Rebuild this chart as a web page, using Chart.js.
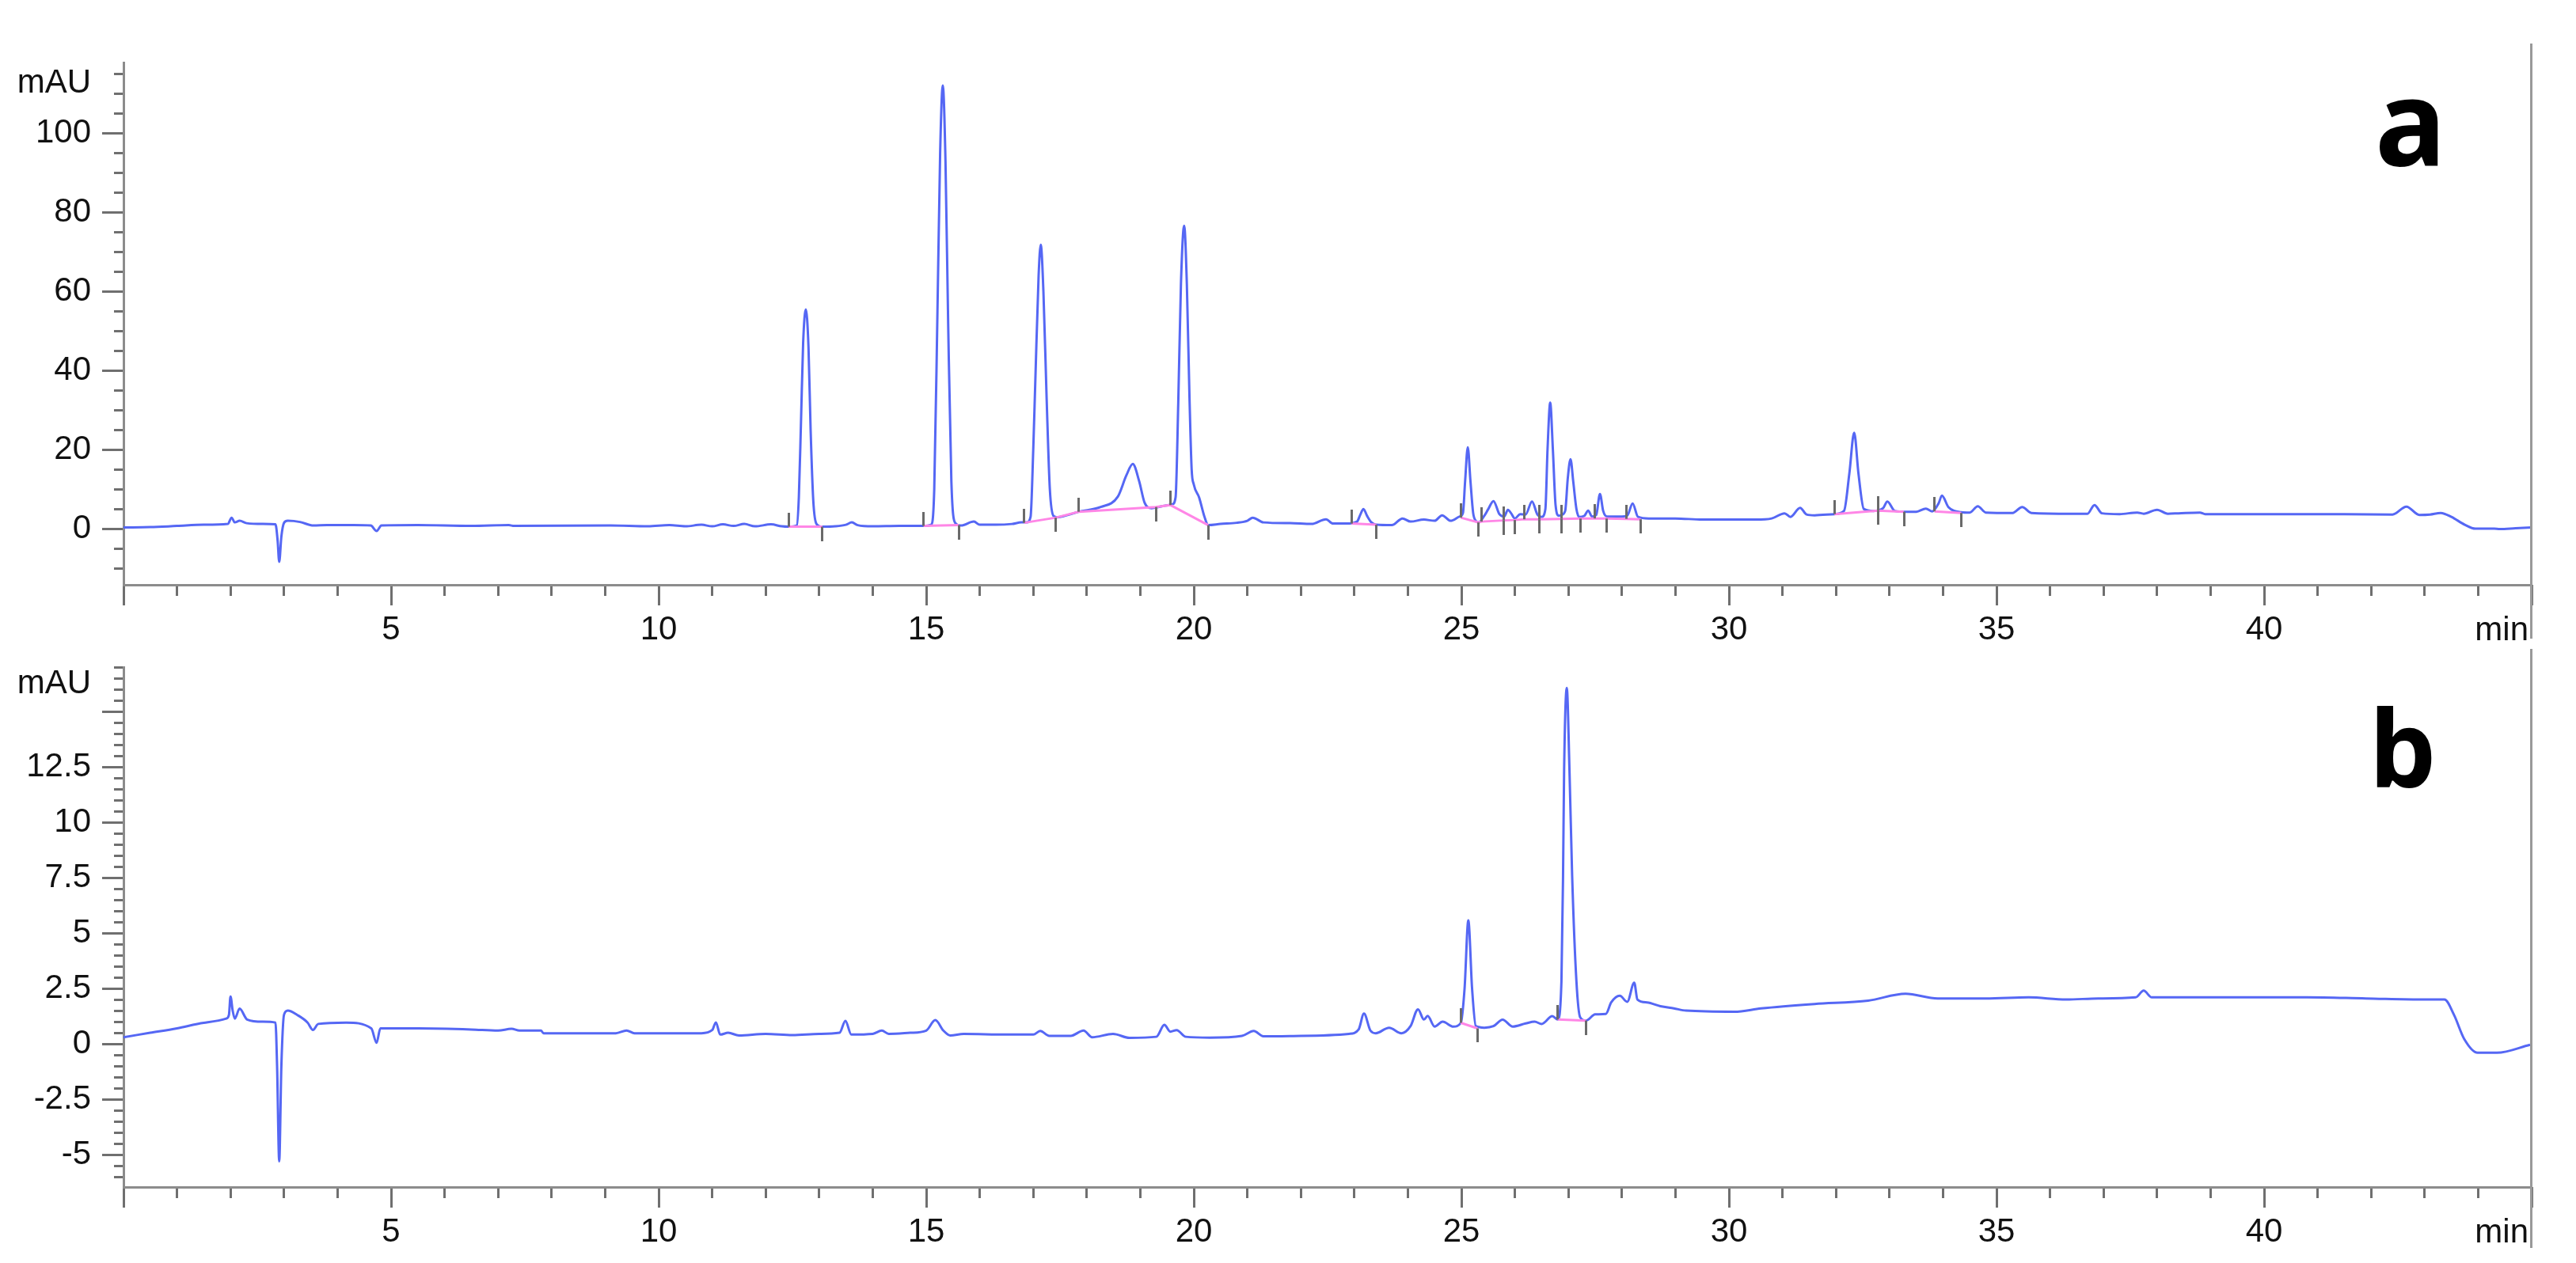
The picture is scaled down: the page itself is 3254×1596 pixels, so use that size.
<!DOCTYPE html>
<html>
<head>
<meta charset="utf-8">
<script src="https://cdn.jsdelivr.net/npm/chart.js@4.4.1/dist/chart.umd.min.js"></script>
<style>
  html, body { margin: 0; padding: 0; background: #fff; }
  body { width: 3254px; height: 1596px; position: relative; overflow: hidden; }
  .panel { position: absolute; left: 0; width: 3254px; }
  #panelA { top: 0; height: 840px; }
  #panelB { top: 800px; height: 796px; }
  .unit { position: absolute; font-family: "Liberation Sans", Arial, sans-serif; font-size: 42px; line-height: 42px; color: #111; white-space: nowrap; }
  .tag { position: absolute; font-family: "Noto Sans", sans-serif; font-weight: 700; line-height: 1; color: #000; }
  .edge { position: absolute; left: 3196px; width: 3px; background: #999; }
</style>
</head>
<body>
<div class="panel" id="panelA"><canvas id="chartA"></canvas></div>
<div class="panel" id="panelB"><canvas id="chartB"></canvas></div>

<div class="unit" style="right:3139px; top:82px; text-align:right;">mAU</div>
<div class="unit" style="right:3139px; top:841px; text-align:right;">mAU</div>
<div class="unit" style="right:60px; top:774px;">min</div>
<div class="unit" style="right:60px; top:1535px;">min</div>
<div class="tag" style="left:3000px; top:76px; font-size:150px;">a</div>
<div class="tag" style="left:2993px; top:876px; font-size:134px;">b</div>
<div class="edge" style="top:55px; height:752px;"></div>
<div class="edge" style="top:820px; height:757px;"></div>

<script>
// chromatogram a
let timeA = [0, 0.5, 1, 1.5, 1.95, 2.02, 2.08, 2.17, 2.3, 2.6, 2.84, 2.88, 2.91, 2.95, 3, 3.07, 3.3, 3.55, 3.8, 4.3,
  4.62, 4.73, 4.82, 5.5, 6.5, 7.2, 7.3, 9.1, 9.8, 10.2, 10.5, 10.8, 11, 11.2, 11.4, 11.6, 11.8, 12.1, 12.3,
  12.43, 12.58, 12.62, 12.66, 12.7, 12.75, 12.8, 12.84, 12.89, 12.95, 13.06, 13.3, 13.5, 13.61, 13.72, 14, 14.5,
  14.95, 15.09, 15.15, 15.21, 15.26, 15.31, 15.36, 15.41, 15.47, 15.54, 15.65, 15.89, 16, 16.3, 16.6, 16.78, 16.88,
  16.95, 17, 17.04, 17.1, 17.14, 17.19, 17.25, 17.31, 17.38, 17.45, 17.6, 17.85, 18.26, 18.58, 18.74, 18.86, 18.98,
  19.08, 19.21, 19.35, 19.48, 19.6, 19.66, 19.71, 19.76, 19.82, 19.87, 19.92, 19.96, 20, 20.1, 20.2, 20.27,
  20.5, 20.8, 21, 21.1, 21.3, 21.8, 22.2, 22.47, 22.6, 22.85, 23.05, 23.11, 23.17, 23.24, 23.32, 23.41, 23.7, 23.9,
  24.05, 24.3, 24.5, 24.64, 24.8, 24.97, 25.03, 25.07, 25.12, 25.17, 25.22, 25.27, 25.32, 25.43, 25.5, 25.6, 25.71,
  25.8, 25.87, 25.93, 26, 26.1, 26.2, 26.32, 26.42, 26.5, 26.57, 26.61, 26.66, 26.71, 26.76, 26.82, 26.87, 26.94,
  26.99, 27.04, 27.09, 27.15, 27.2, 27.3, 27.37, 27.44, 27.52, 27.59, 27.65, 27.72, 28, 28.1, 28.2, 28.3, 28.5,
  29, 29.5, 30, 30.5, 30.8, 31.04, 31.15, 31.33, 31.45, 31.6, 31.97, 32.15, 32.25, 32.34, 32.42, 32.52, 32.7,
  32.88, 32.96, 33.1, 33.3, 33.5, 33.68, 33.8, 33.92, 33.98, 34.1, 34.34, 34.5, 34.65, 34.8, 35.3, 35.48, 35.65,
  36.4, 36.7, 36.83, 36.97, 37.3, 37.63, 37.75, 38, 38.2, 38.4, 38.8, 38.9, 41.5, 42.4, 42.66, 42.9, 43.1, 43.3,
  43.5, 43.75, 43.95, 44.3, 44.4, 44.7, 45];
let mauA = [0.3, 0.4, 0.7, 1, 1.2, 2.8, 1.6, 2, 1.4, 1.2, 1.1, -3, -8.4, -2, 1.5, 2, 1.7, 0.8, 0.9, 0.9,
  0.8, -0.6, 0.8, 0.9, 0.7, 0.9, 0.7, 0.8, 0.6, 0.9, 0.6, 1, 0.6, 1.1, 0.7, 1.2, 0.6, 1.1, 0.6,
  0.5, 0.8, 8, 27, 47, 55.5, 46, 25, 7, 1.2, 0.5, 0.6, 1, 1.6, 0.9, 0.6, 0.7,
  0.7, 1, 10, 55, 95, 112.2, 93, 52, 12, 1.5, 0.8, 1.8, 1, 1, 1.2, 1.6, 1.6,
  3, 20, 38, 64, 71.9, 60, 33, 10, 3.2, 2.9, 3.3, 4.3, 5.5, 8.1, 13.5, 16.4, 12,
  6.6, 5.2, 5.5, 5.9, 6.2, 8, 32, 62, 76.7, 62, 33, 15, 11.2, 7.9, 3, 0.9,
  1.2, 1.5, 2, 2.8, 1.6, 1.4, 1.2, 2.4, 1.3, 1.3, 1.8, 3.5, 5, 3.2, 1.6, 1, 0.9, 2.6,
  1.8, 2.3, 2, 3.4, 2, 3.1, 4, 12, 20.6, 12, 4, 2, 1.6, 3.3, 4.9, 7, 3.7,
  3.1, 4.8, 3.9, 2.6, 3.7, 3.6, 6.9, 3.6, 3, 5, 20, 31.9, 20, 6, 3.3, 3.5, 4.5,
  13, 17.6, 12, 5, 3, 3.3, 4.6, 3.1, 3.5, 8.8, 4.5, 3.1, 3.1, 3.3, 6.4, 3, 2.6,
  2.6, 2.3, 2.3, 2.3, 2.6, 3.9, 3, 5.3, 3.6, 3.4, 3.7, 4.5, 14, 24.3, 14, 5, 4.5,
  5.2, 6.9, 4.5, 4.3, 4.3, 5.1, 4.4, 6.5, 8.4, 5.5, 4.2, 4.1, 5.7, 4.1, 4, 5.5, 4,
  3.8, 3.8, 6, 3.9, 3.7, 4.1, 3.8, 4.8, 3.8, 3.9, 4.1, 3.7, 3.7, 3.6, 5.6, 3.5, 3.6, 4,
  3, 1, 0, 0, -0.1, 0.1, 0.3];

// integration baselines a (null = break)
let baseTimeA = [12.43, 13.06, null, 14.95, 15.61, null, 16.83, 17.42, 17.85, 19.29, 19.56, 20.27, null,
  22.95, 23.41, null, 24.99, 25.32, 25.38, 25.79, 26.0, 26.18, 26.46, 26.87, 27.23, 27.49, 27.72, 28.08, 28.35, null,
  31.97, 32.79, 33.27, null, 33.84, 34.34];
let baseMauA = [0.5, 0.5, null, 0.7, 0.9, null, 1.5, 2.8, 4.3, 5.5, 6.0, 0.9, null,
  1.3, 1.0, null, 2.8, 1.6, 1.8, 2.1, 2.2, 2.4, 2.4, 2.5, 2.6, 2.6, 2.6, 2.5, 2.4, null,
  3.7, 4.6, 4.3, null, 4.4, 4.0];

let startTimeA = [12.43, 14.95, 16.83, 17.85, 19.56, 22.95, 24.99, 25.38, 25.79, 26.18, 26.46, 26.87, 27.49, 28.08, 31.97, 32.79, 33.84];
let startMauA = [0.5, 0.7, 1.5, 4.3, 6.0, 1.3, 2.8, 1.8, 2.1, 2.4, 2.4, 2.5, 2.6, 2.5, 3.7, 4.6, 4.4];
let endTimeA = [13.06, 15.61, 17.42, 19.29, 20.27, 23.41, 25.32, 25.79, 26.0, 26.46, 26.87, 27.23, 27.72, 28.35, 32.79, 33.27, 34.34];
let endMauA = [0.5, 0.9, 2.8, 5.5, 0.9, 1.0, 1.6, 2.1, 2.2, 2.4, 2.5, 2.6, 2.6, 2.4, 4.6, 4.3, 4.0];

// chromatogram b
let timeB = [0, 0.5, 1, 1.5, 1.92, 1.97, 2, 2.04, 2.08, 2.17, 2.31, 2.6, 2.84, 2.87, 2.91, 2.95, 3, 3.07, 3.25,
  3.44, 3.54, 3.64, 4.16, 4.63, 4.73, 4.8, 5.5, 6.5, 7, 7.25, 7.4, 7.8, 7.85, 9.2, 9.4, 9.55, 10.8, 11, 11.07,
  11.15, 11.3, 11.5, 12, 12.5, 13, 13.38, 13.49, 13.6, 14, 14.17, 14.3, 14.7, 15, 15.17, 15.32, 15.45, 15.7,
  16.5, 17, 17.13, 17.3, 17.7, 17.94, 18.1, 18.49, 18.8, 19.3, 19.45, 19.56, 19.68, 19.85, 20.3, 20.9, 21.12,
  21.3, 22, 22.9, 23.08, 23.18, 23.3, 23.4, 23.65, 23.88, 24.05, 24.19, 24.3, 24.37, 24.5, 24.65, 24.85, 24.99,
  25.06, 25.13, 25.2, 25.27, 25.43, 25.6, 25.77, 25.96, 26.2, 26.37, 26.5, 26.7, 26.8, 26.87, 26.9, 26.92,
  26.97, 27.02, 27.07, 27.15, 27.22, 27.33, 27.5, 27.7, 27.8, 27.96, 28.1, 28.23, 28.29, 28.47, 28.72, 28.97,
  29.2, 30.1, 30.6, 31.6, 32.6, 33.3, 33.9, 34.8, 35.6, 36.3, 36.9, 37.6, 37.75, 37.9, 39, 40.8, 41.9, 43,
  43.37, 43.55, 43.74, 43.99, 44.35, 44.97];
let mauB = [0.3, 0.5, 0.7, 0.95, 1.14, 1.3, 2.14, 1.5, 1.14, 1.59, 1.1, 1, 0.96, -1, -5.3, -1, 1.32, 1.5, 1.3,
  0.96, 0.63, 0.9, 0.96, 0.7, 0.05, 0.7, 0.7, 0.65, 0.6, 0.68, 0.6, 0.6, 0.48, 0.48, 0.6, 0.48, 0.48, 0.62, 0.97,
  0.42, 0.5, 0.38, 0.45, 0.4, 0.45, 0.5, 1.04, 0.42, 0.45, 0.6, 0.45, 0.5, 0.6, 1.07, 0.6, 0.38, 0.45,
  0.42, 0.42, 0.58, 0.36, 0.36, 0.6, 0.3, 0.45, 0.27, 0.32, 0.86, 0.55, 0.62, 0.32, 0.28, 0.36, 0.58,
  0.34, 0.36, 0.45, 0.65, 1.37, 0.6, 0.48, 0.73, 0.48, 0.8, 1.56, 1.1, 1.26, 0.78, 1, 0.78, 0.95,
  2.5, 5.57, 2.5, 0.8, 0.73, 0.8, 1.09, 0.78, 0.92, 1, 0.9, 1.25, 1.1, 2.82, 7.58, 12.36,
  16.06, 12.36, 7.58, 2.82, 1.2, 1.05, 1.33, 1.35, 1.87, 2.17, 1.9, 2.76, 2, 1.87, 1.7, 1.6,
  1.5, 1.45, 1.6, 1.8, 1.95, 2.26, 2.05, 2.05, 2.1, 2, 2.05, 2.1, 2.4, 2.1, 2.1, 2.1, 2.05, 2,
  2, 1.3, 0.22, -0.4, -0.4, -0.04];

let baseTimeB = [24.99, 25.3, null, 26.8, 27.33];
let baseMauB = [0.95, 0.7, null, 1.1, 1.05];
let startTimeB = [24.99, 26.8];
let startMauB = [0.95, 1.1];
let endTimeB = [25.3, 27.33];
let endMauB = [0.7, 1.05];

let yTicksA = { min: -14.2, max: 118, major: 20, minor: 5 };
let yTicksB = { min: -6.46, max: 17, major: 2.5, minor: 0.5 };
let hiddenLabelsB = [15];

const tickFont = { family: '"Liberation Sans", Arial, sans-serif', size: 42 };
const tickGray = '#6f6f6f';
const axisGray = '#8c8c8c';

function toPoints(xs, ys) {
    return xs.map((x, i) => ({ x: x, y: x === null ? null : ys[i] }));
}

// little vertical bar used as point style for the integration marks
function markImage(up) {
    let c = document.createElement('canvas');
    c.width = 3;
    c.height = 36;
    let g = c.getContext('2d');
    g.fillStyle = '#6a6a6a';
    if (up) g.fillRect(0, 0, 3, 18); else g.fillRect(0, 18, 3, 18);
    return c;
}

function drawPanel(id, times, values, baseT, baseV, sT, sV, eT, eV, yt, hidden, padTop, xHeight) {
    new Chart(id, {
        type: "line",
        data: {
            datasets: [
                {
                    data: toPoints(sT, sV), showLine: false, pointStyle: markImage(true), pointRadius: 5,
                    xAxisID: 'x', yAxisID: 'y', order: 0
                },
                {
                    data: toPoints(eT, eV), showLine: false, pointStyle: markImage(false), pointRadius: 5,
                    xAxisID: 'x', yAxisID: 'y', order: 0
                },
                {
                    data: toPoints(baseT, baseV), borderColor: '#ff86e6', borderWidth: 3, pointRadius: 0,
                    spanGaps: false, tension: 0, xAxisID: 'x', yAxisID: 'y', order: 1
                },
                {
                    data: toPoints(times, values), borderColor: '#5567f4', borderWidth: 3, pointRadius: 0,
                    cubicInterpolationMode: 'monotone', xAxisID: 'x', yAxisID: 'y', order: 2
                }
            ]
        },
        options: {
            responsive: true,
            maintainAspectRatio: false,
            animation: false,
            events: [],
            layout: { padding: { top: padTop, right: 56, bottom: 0, left: 0 } },
            plugins: { legend: { display: false }, tooltip: { enabled: false } },
            scales: {
                x: {
                    type: 'linear', axis: 'x', min: 0, max: 45, position: 'bottom',
                    ticks: {
                        stepSize: 5, autoSkip: false, maxRotation: 0, includeBounds: false, padding: 6,
                        color: '#111', font: tickFont,
                        callback: v => (v > 0 && v < 45) ? v : ''
                    },
                    grid: { drawOnChartArea: false, tickLength: 26, tickWidth: 3, tickColor: tickGray },
                    border: { color: axisGray, width: 3 },
                    afterFit: s => { s.height = xHeight; }
                },
                xMinor: {
                    type: 'linear', axis: 'x', min: 0, max: 45, position: { y: yt.min },
                    ticks: { stepSize: 1, display: false, autoSkip: false, includeBounds: false, font: { size: 4 } },
                    grid: { drawOnChartArea: false, tickLength: 14, tickWidth: 3, tickColor: tickGray },
                    border: { display: false }
                },
                y: {
                    type: 'linear', axis: 'y', min: yt.min, max: yt.max, position: 'left',
                    ticks: {
                        stepSize: yt.major, autoSkip: false, includeBounds: false, padding: 14,
                        color: '#111', font: tickFont,
                        callback: v => hidden.includes(v) ? '' : v
                    },
                    grid: { drawOnChartArea: false, tickLength: 27, tickWidth: 3, tickColor: tickGray },
                    border: { color: axisGray, width: 3 },
                    afterFit: s => { s.width = 156; }
                },
                yMinor: {
                    type: 'linear', axis: 'y', min: yt.min, max: yt.max, position: { x: 0 },
                    ticks: { stepSize: yt.minor, display: false, autoSkip: false, includeBounds: false, font: { size: 4 } },
                    grid: { drawOnChartArea: false, tickLength: 12, tickWidth: 3, tickColor: tickGray },
                    border: { display: false }
                }
            }
        }
    });
}

drawPanel("chartA", timeA, mauA, baseTimeA, baseMauA, startTimeA, startMauA, endTimeA, endMauA, yTicksA, [], 79, 101);
drawPanel("chartB", timeB, mauB, baseTimeB, baseMauB, startTimeB, startMauB, endTimeB, endMauB, yTicksB, hiddenLabelsB, 43, 96);
</script>
</body>
</html>
